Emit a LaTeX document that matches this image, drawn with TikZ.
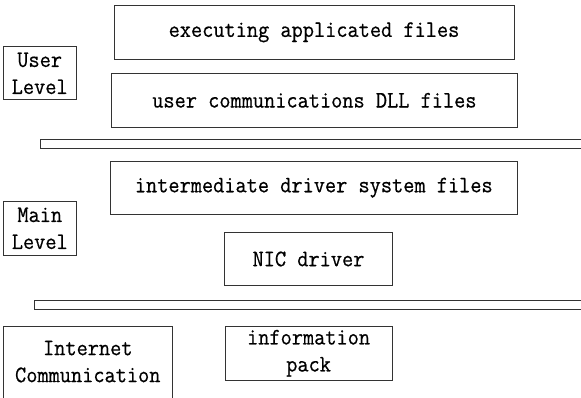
\documentclass[tikz,border=0pt]{standalone}
\usepackage{fontspec}
\newfontfamily\boxfont[FakeStretch=0.92,FakeBold=0.6]{Latin Modern Mono}
\begin{document}
\begin{tikzpicture}[x=1pt,y=1pt,
  box/.style={draw=black!80, line width=0.9pt, inner sep=0pt, outer sep=0pt,
    align=center, font=\boxfont\fontsize{23.6}{27}\selectfont},
  txt/.style={inner sep=0pt, align=center, font=\boxfont\fontsize{23.6}{27}\selectfont},
  bar/.style={draw=black!80, line width=0.9pt, inner sep=0pt, outer sep=0pt}]
\useasboundingbox (0,0) rectangle (581,-398);
% upper (user) level
\node[box, minimum width=400, minimum height=54] (exec) at (314,-32.3) {executing applicated files};
\node[box, minimum width=72.7, minimum height=53.3] (user) at (39.7,-73.3) {User\\Level};
\node[box, minimum width=406.7, minimum height=54] (dll) at (314.4,-100.3) {user communications DLL files};
% separator between levels
\node[bar, minimum width=560, minimum height=9, anchor=west] (sep1) at (40,-144) {};
% main level
\node[box, minimum width=407, minimum height=53.3] (inter) at (313.8,-187.7) {intermediate driver system files};
\node[box, minimum width=73, minimum height=53.3] (main) at (39.8,-228.3) {Main\\Level};
\node[box, minimum width=167.6, minimum height=53.4] (nic) at (308.5,-259) {NIC driver};
% separator above the network
\node[bar, minimum width=560, minimum height=9, anchor=west] (sep2) at (34,-304.7) {};
% network level
\node[box, minimum width=169, minimum height=80, anchor=north] (net) at (87.8,-326.7) {};
\node[txt] (nettext) at (87.8,-361.6) {Internet\\Communication};
\node[box, minimum width=167.3, minimum height=53.3] (pack) at (308.6,-353.3) {information\\pack};
\end{tikzpicture}
\end{document}
